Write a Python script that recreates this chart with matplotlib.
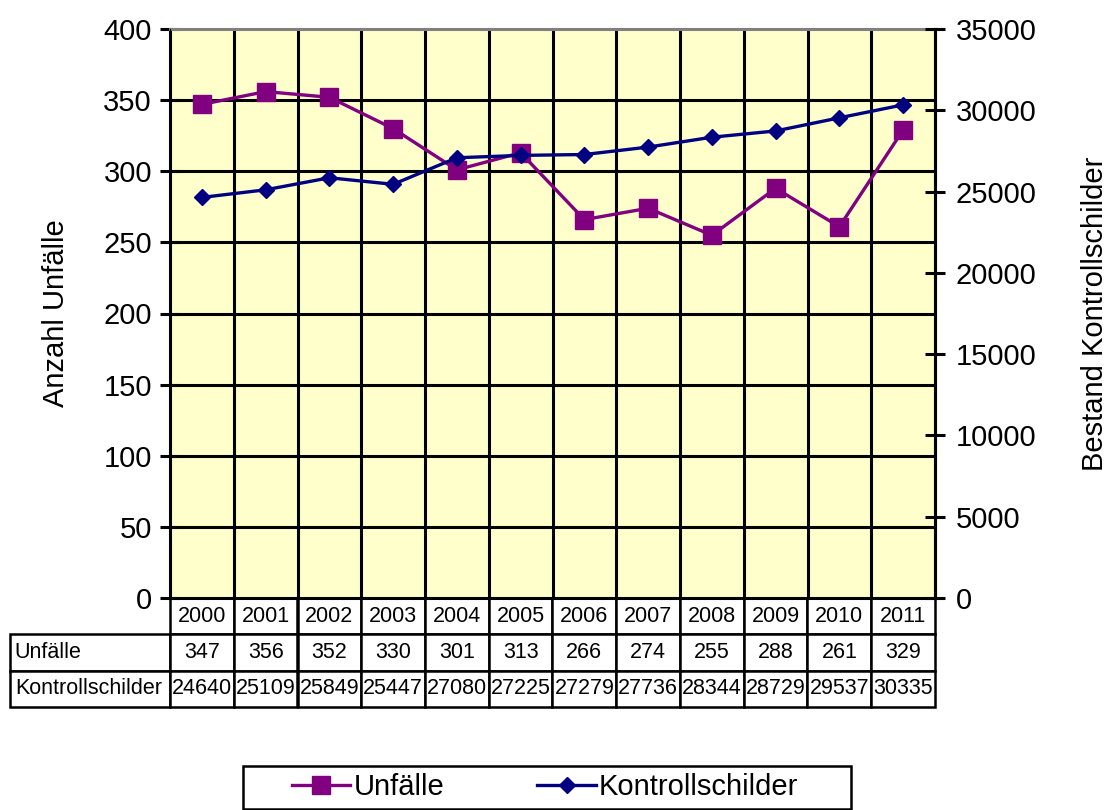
import matplotlib.pyplot as plt
from matplotlib.lines import Line2D
from matplotlib.patches import Rectangle

plt.rcParams['font.family'] = ['Liberation Sans', 'DejaVu Sans']

jahre = ['2000', '2001', '2002', '2003', '2004', '2005', '2006', '2007', '2008', '2009', '2010', '2011']
unfaelle = [347, 356, 352, 330, 301, 313, 266, 274, 255, 288, 261, 329]
schilder = [24640, 25109, 25849, 25447, 27080, 27225, 27279, 27736, 28344, 28729, 29537, 30335]
zeilen = ['Unfälle', 'Kontrollschilder']

lila = '#800080'
navy = '#000080'

W, H = 1111, 810
fig = plt.figure(figsize=(W / 100, H / 100), dpi=100)

# Plotbereich in Pixeln
x0, x1, y0, y1 = 170, 935, 29, 598
ax = fig.add_axes([x0 / W, 1 - y1 / H, (x1 - x0) / W, (y1 - y0) / H])
ax.set_facecolor('#FFFFCC')

x = list(range(len(jahre)))
ax.plot(x, unfaelle, color=lila, lw=2.4, marker='s', ms=13, zorder=3)
ax.set_xlim(-0.5, len(jahre) - 0.5)
ax.set_ylim(0, 400)
ax.set_yticks(range(0, 401, 50))
ax.set_xticks([])

# Gitter: horizontal an den Ticks, vertikal an den Kategoriegrenzen
for yv in range(50, 400, 50):
    ax.axhline(yv, color='black', lw=2.2, zorder=1)
for xv in x[:-1]:
    ax.axvline(xv + 0.5, color='black', lw=2.2, zorder=1)

ax.spines['top'].set_color('#808080')
ax.spines['top'].set_linewidth(2.2)
for s in ['left', 'right', 'bottom']:
    ax.spines[s].set_linewidth(2.2)
ax.tick_params(axis='y', direction='inout', length=14, width=2.2, labelsize=21, pad=6)
ax.set_ylabel('Anzahl Unfälle', fontsize=21, labelpad=24)

ax2 = ax.twinx()
ax2.plot(x, schilder, color=navy, lw=2.4, marker='D', ms=8.5, zorder=3)
ax2.set_ylim(0, 35000)
ax2.set_yticks(range(0, 35001, 5000))
ax2.spines['right'].set_linewidth(2.2)
ax2.spines['top'].set_visible(False)
ax2.tick_params(axis='y', direction='inout', length=14, width=2.2, labelsize=21, pad=8)
ax2.set_ylabel('Bestand Kontrollschilder', fontsize=21, labelpad=32)

# Datentabelle unter dem Diagramm (erste Spalte = Zeilenbeschriftung)
lab_w = 160
tab_h = 109
col_w = (x1 - x0) / len(jahre)
zellen = [[zeilen[0]] + [str(v) for v in unfaelle],
          [zeilen[1]] + [str(v) for v in schilder]]
tab = ax.table(cellText=zellen, colLabels=[''] + jahre,
               colWidths=[lab_w] + [col_w] * len(jahre),
               cellLoc='center',
               bbox=[-lab_w / (x1 - x0), -tab_h / (y1 - y0),
                     1 + lab_w / (x1 - x0), tab_h / (y1 - y0)])
tab.auto_set_font_size(False)
for (r, c), cell in tab.get_celld().items():
    cell.set_linewidth(1.8)
    cell.set_fontsize(15.5)
    cell.PAD = 0.03
    if c == 0:
        if r == 0:
            cell.visible_edges = ''
        else:
            cell._loc = 'left'
            cell.get_text().set_horizontalalignment('left')

# Legende mit Rahmen
fig.patches.append(Rectangle((243 / W, 1 - 809 / H), 608 / W, 43 / H,
                             transform=fig.transFigure, fill=False,
                             edgecolor='black', lw=1.8))
handles = [Line2D([], [], color=lila, lw=2.4, marker='s', ms=13),
           Line2D([], [], color=navy, lw=2.4, marker='D', ms=8.5)]
fig.legend(handles, zeilen, ncol=2, loc='center',
           bbox_to_anchor=(545 / W, 1 - 787 / H),
           fontsize=21, frameon=False,
           handlelength=2.0, handletextpad=0.1, borderpad=0.2,
           columnspacing=3.2, borderaxespad=0)

fig.savefig('out.png', dpi=100)
